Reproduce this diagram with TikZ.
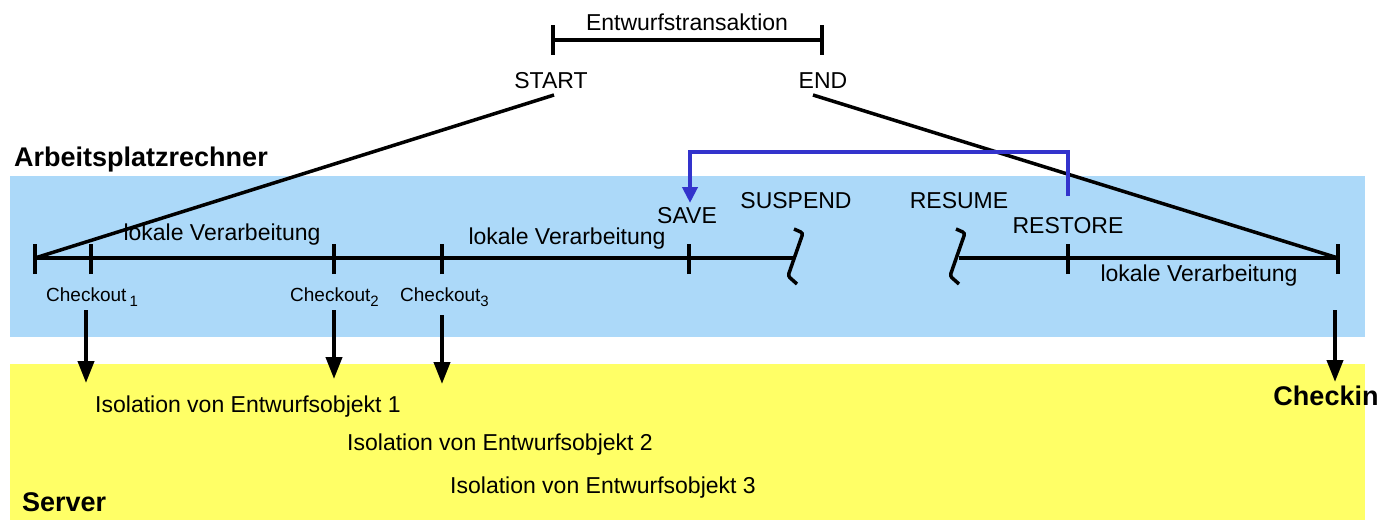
\documentclass[tikz,border=0pt]{standalone}
\usepackage{fontspec}
\setmainfont{Liberation Sans}
\usetikzlibrary{arrows.meta}
\definecolor{ablue}{HTML}{ACD9F9}
\definecolor{syellow}{HTML}{FFFF66}
\definecolor{lblue}{HTML}{3333CC}
\tikzset{
  txt/.style={font=\fontsize{23}{26}\selectfont, inner sep=0pt},
  small/.style={font=\fontsize{19}{22}\selectfont, inner sep=0pt},
  bold/.style={font=\fontsize{27}{30}\selectfont\bfseries, inner sep=0pt},
  tl/.style={line width=4pt},
  tick/.style={line width=4pt},
  brk/.style={line width=3.5pt,rounded corners=2.5pt},
  darrow/.style={line width=4pt,-{Triangle[width=16pt,length=22pt]}},
  barrow/.style={line width=4pt,draw=lblue,-{Triangle[width=15pt,length=16pt]}},
}
\newcommand{\subn}[1]{$_{\textrm{\fontsize{15}{16}\selectfont #1}}$}
\begin{document}
\begin{tikzpicture}[x=1pt,y=-1pt]
\useasboundingbox (0,0) rectangle (1392,522);
\fill[ablue] (10,176) rectangle (1365,337);
\fill[syellow] (10,364) rectangle (1365,520);

% top bracket
\coordinate (bl) at (553,40);
\coordinate (br) at (822,40);
\draw[tl] (bl) -- (br);
\draw[tick] (553,25) -- (553,55);
\draw[tick] (822,25) -- (822,55);
\node[txt] (et) at (687,22) {Entwurfstransaktion};
\node[txt] (start) at (551,81) {START};
\node[txt] (end) at (823,81) {END};

% timeline coordinates
\coordinate (t0) at (35,258);
\coordinate (t1) at (91,258);
\coordinate (t2) at (334,258);
\coordinate (t3) at (442,258);
\coordinate (t4) at (689,258);
\coordinate (s1) at (795,258);
\coordinate (s2) at (959,258);
\coordinate (t5) at (1068,258);
\coordinate (t6) at (1338,258);

\draw[tl] (t0) -- (s1);
\draw[tl] (s2) -- (t6);
\foreach \p in {t0,t1,t2,t3,t4,t5,t6}
  \draw[tick] ([yshift=-16pt]\p) -- ([yshift=14pt]\p);

% break marks
\draw[brk] (794,229) -- (803,233) -- (788,276) -- (797,284);
\draw[brk] (956,229) -- (965,233) -- (950,276) -- (959,284);

% diagonal lines
\coordinate (sa) at (554,95);
\coordinate (ea) at (813,95);
\draw[line width=3.5pt] (sa) -- (t0);
\draw[line width=3.5pt] (ea) -- (t6);

% blue arrow
\coordinate (rb) at (1068,196);
\draw[barrow] (rb) -- (1068,152) -- (690,152) -- (690,203);

% labels
\node[bold,anchor=west] (apr) at (14,160) {Arbeitsplatzrechner};
\node[bold,anchor=west] (srv) at (22,502) {Server};
\node[bold] (chk) at (1326,396) {Checkin};
\node[txt] (lv1) at (222,235) {lokale Verarbeitung};
\node[txt] (lv2) at (567,239) {lokale Verarbeitung};
\node[txt] (lv3) at (1199,276) {lokale Verarbeitung};
\node[txt] (save) at (687,216) {SAVE};
\node[txt] (susp) at (796,201) {SUSPEND};
\node[txt] (resm) at (959,201) {RESUME};
\node[txt] (rest) at (1068,226) {RESTORE};
\node[small,anchor=west] (c1) at (46,297) {Checkout\,\subn{1}};
\node[small,anchor=west] (c2) at (290,297) {Checkout\subn{2}};
\node[small,anchor=west] (c3) at (400,297) {Checkout\subn{3}};
\node[txt] (i1) at (248,407) {Isolation von Entwurfsobjekt 1};
\node[txt] (i2) at (500,445) {Isolation von Entwurfsobjekt 2};
\node[txt] (i3) at (603,488) {Isolation von Entwurfsobjekt 3};

% arrows
\coordinate (a1) at (86,310);
\coordinate (a2) at (334,310);
\coordinate (a3) at (442,315);
\coordinate (a4) at (1335,310);
\draw[darrow] (a1) -- (86,383);
\draw[darrow] (a2) -- (334,379);
\draw[darrow] (a3) -- (442,384);
\draw[darrow] (a4) -- (1335,382);
\end{tikzpicture}
\end{document}
